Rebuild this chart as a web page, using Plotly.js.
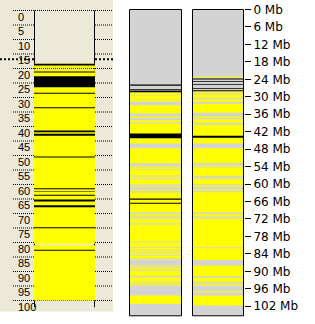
<!DOCTYPE html>
<html><head><meta charset="utf-8">
<script src="https://cdn.plot.ly/plotly-3.0.1.min.js"></script>
<style>html,body{margin:0;padding:0;background:#fff;overflow:hidden}</style>
</head><body><div id="chart" style="width:315px;height:324px"></div>
<script>
// ---------- Left panel: relative position scale (0-100) ----------
const leftTicks = [0,5,10,15,20,25,30,35,40,45,50,55,60,65,70,75,80,85,90,95,100];
const leftMarker = 16.8;
const leftColumnEnd = 102.3;
const leftYellowStart = [18.38, 20.24, 80.93];
const leftYellowEnd   = [19.90, 80.45, 100.0];
const leftBlackStart = [18.38, 21.03, 22.66, 28.38, 33.34, 41.38, 42.52, 50.34, 61.28, 62.31, 63.55, 65.17, 67.14, 74.72, 82.52];
const leftBlackEnd   = [18.97, 21.38, 26.45, 28.72, 33.69, 41.97, 43.21, 50.69, 61.62, 62.52, 63.90, 65.86, 67.83, 75.07, 82.86];

// ---------- Mb scale ----------
const mbTicks = [0,6,12,18,24,30,36,42,48,54,60,66,72,78,84,90,96,102];
const chromLength = 105.29;

// middle column
const midYellowStart = [28.43,29.67,31.18,32.90,36.78,38.05,39.19,47.68,53.87,54.56,55.24,57.51,58.34,60.67,61.98,62.91,70.30,71.26,71.95,73.91,80.10,82.05,82.95,83.77,84.67,85.84,88.00,88.79,89.79,92.02,93.74,94.64,98.31];
const midYellowEnd   = [29.46,30.94,31.73,35.75,37.23,38.74,46.06,52.84,54.31,55.00,57.06,57.99,60.16,60.95,62.39,69.78,70.81,71.50,73.46,79.75,81.71,82.61,83.53,84.32,85.42,86.11,88.35,89.38,91.54,93.50,94.19,94.98,101.17];
const midBlackStart = [25.78,27.40,27.95,42.63,64.97,66.45];
const midBlackEnd   = [26.23,27.74,28.43,44.24,65.42,66.79];

// right column
const rightYellowStart = [22.93,28.09,29.22,30.84,32.42,36.78,37.71,39.64,47.68,53.63,54.31,57.75,58.34,60.50,61.88,62.80,70.30,71.26,71.95,82.05,88.00,92.13,93.95,94.64,96.84,98.31];
const rightYellowEnd   = [23.27,28.77,30.35,31.73,35.51,37.23,38.95,46.06,52.77,53.97,57.17,57.99,60.06,60.95,62.32,69.78,70.92,71.50,81.71,86.11,91.61,93.50,94.19,94.98,97.18,101.75];
const rightBlackStart = [23.72,24.65,25.61,27.05,27.74,43.42];
const rightBlackEnd   = [24.06,24.92,25.89,27.33,28.09,44.10];

// ---------- layout constants ----------
const YELLOW = '#FFFF00', GRAY = '#D3D3D3', BLACK = '#000000', BEIGE = '#ECE9D8';
const leftCol = {x0: 34, x1: 95};
const midCol = {xc: 155.5, w: 52};
const rightCol = {xc: 218, w: 51};

function bars(starts, ends, xc, w, color, yaxis) {
  return {
    type: 'bar', x: starts.map(() => xc), base: starts,
    y: starts.map((s, i) => ends[i] - s), width: starts.map(() => w),
    marker: {color: color, line: {width: 0}}, yaxis: yaxis, xaxis: 'x',
    hoverinfo: 'skip', showlegend: false
  };
}
function outline(xc, w, len, yaxis) {
  return {
    type: 'bar', x: [xc], base: [0], y: [len], width: [w],
    marker: {color: 'rgba(0,0,0,0)', line: {width: 1, color: BLACK}},
    yaxis: yaxis, xaxis: 'x', hoverinfo: 'skip', showlegend: false
  };
}
const lxc = (leftCol.x0 + leftCol.x1) / 2, lw = leftCol.x1 - leftCol.x0;

const traces = [
  bars(leftYellowStart, leftYellowEnd, lxc, lw, YELLOW, 'y'),
  bars(leftBlackStart, leftBlackEnd, lxc, lw, BLACK, 'y'),
  bars([0], [chromLength], midCol.xc, midCol.w, GRAY, 'y2'),
  bars(midYellowStart, midYellowEnd, midCol.xc, midCol.w, YELLOW, 'y2'),
  bars(midBlackStart, midBlackEnd, midCol.xc, midCol.w, BLACK, 'y2'),
  outline(midCol.xc, midCol.w, chromLength, 'y2'),
  bars([0], [chromLength], rightCol.xc, rightCol.w, GRAY, 'y2'),
  bars(rightYellowStart, rightYellowEnd, rightCol.xc, rightCol.w, YELLOW, 'y2'),
  bars(rightBlackStart, rightBlackEnd, rightCol.xc, rightCol.w, BLACK, 'y2'),
  outline(rightCol.xc, rightCol.w, chromLength, 'y2')
];

// shapes: beige panel, gridlines, column frame, marker line
const shapes = [
  {type: 'rect', xref: 'x', yref: 'paper', x0: 0, x1: 113, y0: 1 - 311.5/324, y1: 1, fillcolor: BEIGE, line: {width: 0}, layer: 'below'}
];
const dotted = {color: BLACK, width: 1, dash: '1px,1px'};
leftTicks.forEach(v => {
  if (v === 0 || v > leftYellowStart[0]) {
    shapes.push({type: 'line', xref: 'x', yref: 'y', x0: 13, x1: 113, y0: v, y1: v, line: dotted, layer: 'below'});
  } else {
    shapes.push({type: 'line', xref: 'x', yref: 'y', x0: 13, x1: leftCol.x0, y0: v, y1: v, line: dotted, layer: 'below'});
    shapes.push({type: 'line', xref: 'x', yref: 'y', x0: leftCol.x1, x1: 113, y0: v, y1: v, line: dotted, layer: 'below'});
  }
});
[leftCol.x0 + 0.5, leftCol.x1 - 0.5].forEach(xv => {
  shapes.push({type: 'line', xref: 'x', yref: 'y', x0: xv, x1: xv, y0: 0, y1: leftColumnEnd, line: {color: BLACK, width: 1}, layer: 'below'});
});
const thick = {color: BLACK, width: 2, dash: '2px,2px'};
shapes.push({type: 'line', xref: 'x', yref: 'y', x0: 0, x1: leftCol.x0, y0: leftMarker, y1: leftMarker, line: thick, layer: 'above'});
shapes.push({type: 'line', xref: 'x', yref: 'y', x0: leftCol.x1, x1: 113, y0: leftMarker, y1: leftMarker, line: thick, layer: 'above'});

const annotations = leftTicks.map(v => ({
  x: 15.5, y: v, xref: 'x', yref: 'y', text: String(v), showarrow: false,
  xanchor: 'left', yanchor: 'top', yshift: 2,
  font: {family: 'Liberation Sans, Arial, sans-serif', size: 11, color: BLACK}
}));

const layout = {
  width: 315, height: 324,
  margin: {l: 0, r: 0, t: 0, b: 0, pad: 0},
  paper_bgcolor: '#FFFFFF', plot_bgcolor: 'rgba(0,0,0,0)',
  barmode: 'overlay', showlegend: false,
  xaxis: {range: [0, 315], visible: false, fixedrange: true},
  yaxis: {range: [313.5/2.9, -10.5/2.9], visible: false, fixedrange: true},
  yaxis2: {
    overlaying: 'y', anchor: 'free', position: 244/315, side: 'right',
    range: [(324 - 9.5)/2.909, -9.5/2.909], fixedrange: true,
    tickmode: 'array', tickvals: mbTicks, ticktext: mbTicks.map(t => t + ' Mb'),
    ticks: 'outside', ticklen: 6, tickwidth: 1, tickcolor: BLACK,
    showgrid: false, zeroline: false, showline: false,
    tickfont: {family: 'DejaVu Sans, sans-serif', size: 12, color: BLACK}
  },
  shapes: shapes, annotations: annotations
};
Plotly.newPlot('chart', traces, layout, {staticPlot: true, displayModeBar: false});
</script></body></html>
